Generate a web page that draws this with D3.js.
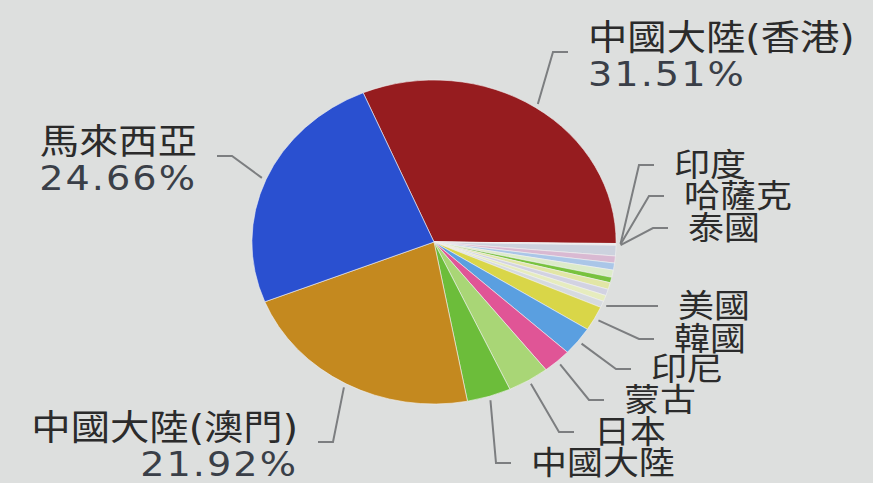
<!DOCTYPE html>
<html>
<head>
<meta charset="utf-8">
<script src="https://cdn.jsdelivr.net/npm/d3@7"></script>
<style>
  body { margin: 0; background: #dddfde; }
  svg { display: block; }
  text { font-family: "DejaVu Sans", "Noto Sans CJK TC", sans-serif; }
</style>
</head>
<body>
<svg id="chart" width="873" height="483"></svg>
<script>
// slice data, clockwise from the red slice ("" = slice without a visible label)
var names = ["中國大陸(香港)", "印度", "哈薩克", "泰國", "", "", "", "", "", "", "", "",
             "美國", "韓國", "印尼", "蒙古", "日本", "中國大陸", "中國大陸(澳門)", "馬來西亞"];
var values = [31.51, 0.05, 0.05, 0.08, 1.05, 0.70, 0.70, 0.72, 0.55, 0.67, 0.64, 0.61,
              0.64, 2.45, 2.85, 2.55, 3.70, 3.90, 21.92, 24.66];
var colors = ["#961c1f", "#d6d8e2", "#e6e6ea", "#ecd4dc", "#ccd2de", "#d9b9d2", "#aac6e8", "#dcebc9",
              "#78c23e", "#e2e6a6", "#d2d2e2", "#e6ecbe", "#d6dadf", "#d9d648", "#5a9fe0", "#e05596",
              "#a9d676", "#6cbd3a", "#c4891f", "#2a50d0"];

// where each visible label sits (x of text edge, y of connector)
var labelPos = {
  "中國大陸(香港)": [588, 52],
  "印度": [674, 165],
  "哈薩克": [684, 196],
  "泰國": [688, 228],
  "美國": [678, 306],
  "韓國": [674, 339],
  "印尼": [651, 369],
  "蒙古": [624, 400],
  "日本": [594, 432],
  "中國大陸": [531, 463],
  "中國大陸(澳門)": [298, 442],
  "馬來西亞": [197, 156]
};

var cx = 434, cy = 242, r = 162;
var sx = 1.124;   // the picture is stretched sideways
var startDeg = -22.9;

var dataset = names.map(function(n, i) { return { name: n, value: values[i], color: colors[i] }; });

var svg = d3.select("#chart");

var pie = d3.pie()
    .sort(null)
    .value(function(d) { return d.value; })
    .startAngle(startDeg * Math.PI / 180)
    .endAngle(startDeg * Math.PI / 180 + 2 * Math.PI);

var arc = d3.arc().innerRadius(0).outerRadius(r);

var arcs = pie(dataset);

// slices
var pieG = svg.append("g")
    .attr("transform", "translate(" + [cx, cy] + ") scale(" + sx + ",1)");

pieG.selectAll("path")
    .data(arcs).enter().append("path")
    .attr("d", arc)
    .attr("fill", function(d) { return d.data.color; })
    .attr("stroke", "#f2f2f2")
    .attr("stroke-width", 0.6)
    .attr("vector-effect", "non-scaling-stroke");

// labels and connectors
var labelG = svg.append("g");

arcs.forEach(function(d) {
  var pos = labelPos[d.data.name];
  if (!pos) return;
  var a = (d.startAngle + d.endAngle) / 2;
  var right = Math.sin(a) > 0;
  var dir = right ? 1 : -1;
  var x = pos[0], y = pos[1];

  var start = [cx + sx * (r + 4) * Math.sin(a), cy - (r + 4) * Math.cos(a)];
  var end = [x - dir * 20, y];
  var bend = [end[0] - dir * 15, y];

  labelG.append("path")
      .attr("d", d3.line()([start, bend, end]))
      .attr("fill", "none")
      .attr("stroke", "#7c7e80")
      .attr("stroke-width", 2);

  var anchor = right ? "start" : "end";
  var twoLines = d.data.value > 20;

  labelG.append("text")
      .attr("transform", "translate(" + [x, twoLines ? y - 2 : y + 11] + ") scale(" + sx + ",1)")
      .attr("text-anchor", anchor)
      .attr("font-size", twoLines ? 35 : 32)
      .attr("fill", "#2b2b2b")
      .text(d.data.name);

  if (twoLines) {
    labelG.append("text")
        .attr("transform", "translate(" + [x, y + 34] + ") scale(" + sx + ",1)")
        .attr("text-anchor", anchor)
        .attr("font-size", 34)
        .attr("letter-spacing", 1.8)
        .attr("fill", "#3a3f48")
        .text(d3.format(".2f")(d.data.value) + "%");
  }
});
</script>
</body>
</html>
